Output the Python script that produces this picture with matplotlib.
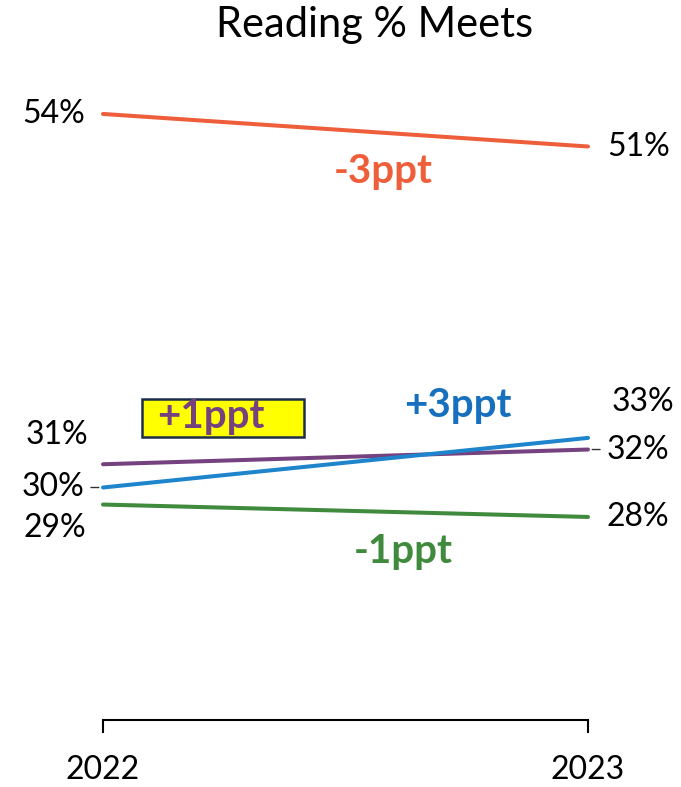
import matplotlib.pyplot as plt
from matplotlib.patches import Rectangle

plt.rcParams['font.family'] = ['Lato', 'DejaVu Sans']

years = [2022, 2023]
# values (hidden y scale)
orange_vals = [54.1, 52.0]
purple_vals = [31.5, 32.45]
blue_vals = [30.0, 33.2]
green_vals = [28.9, 28.1]

series_vals = [orange_vals, purple_vals, blue_vals, green_vals]
series_colors = ['#EE5E3A', '#76417F', '#1E84CC', '#3F8A3C']
text_colors = ['#EE5E3A', '#76417F', '#1670BE', '#3F8A3C']

left_labels = ['54%', '31%', '30%', '29%']
right_labels = ['51%', '32%', '33%', '28%']
change_labels = ['-3ppt', '+1ppt', '+3ppt', '-1ppt']

# label offsets in pixels from the line ends
left_off = [(-18, 0), (-15, 29), (-19, 0), (-17, -23)]
right_off = [(19, 0), (19, 0), (24, 36), (19, 0)]
leader_left = [False, False, True, False]
leader_right = [False, True, False, False]
# change label positions (data coords)
change_pos = [(2022.577, 50.4), (2022.222, 34.6), (2022.732, 35.3), (2022.619, 25.9)]

fig = plt.figure(figsize=(6.81, 7.87), dpi=100)
ax = fig.add_axes([103 / 681, 1 - 720 / 787, 485 / 681, 620 / 787])
ax.set_xlim(2022, 2023)
ax.set_ylim(15, 55)

for vals, col in zip(series_vals, series_colors):
    ax.plot(years, vals, color=col, lw=2.9, solid_capstyle='round', clip_on=False)

for i, vals in enumerate(series_vals):
    ap = dict(arrowstyle='-', color='#333333', lw=1, shrinkA=3, shrinkB=3) if leader_left[i] else None
    ax.annotate(left_labels[i], xy=(years[0], vals[0]), xytext=left_off[i],
                textcoords='offset pixels', ha='right', va='center', fontsize=23,
                arrowprops=ap, annotation_clip=False)
    ap = dict(arrowstyle='-', color='#333333', lw=1, shrinkA=3, shrinkB=3) if leader_right[i] else None
    ax.annotate(right_labels[i], xy=(years[1], vals[1]), xytext=right_off[i],
                textcoords='offset pixels', ha='left', va='center', fontsize=23,
                arrowprops=ap, annotation_clip=False)

# yellow box behind +1ppt
ax.add_patch(Rectangle((2022.080, 33.23), 0.335, 2.51, facecolor='#FFFF00',
                       edgecolor='#1C2E4A', lw=1.8, zorder=3, clip_on=False))

for txt, pos, col in zip(change_labels, change_pos, text_colors):
    ax.text(pos[0], pos[1], txt, color=col, fontsize=29, fontweight='bold',
            ha='center', va='center', zorder=4)

for s in ['top', 'left', 'right']:
    ax.spines[s].set_visible(False)
ax.spines['bottom'].set_linewidth(1.5)
ax.set_yticks([])
ax.set_xticks(years)
ax.set_xticklabels([str(y) for y in years], fontsize=23)
ax.tick_params(axis='x', direction='out', length=9, width=1.5, pad=16)

fig.text(375 / 681, 1 - 25 / 787, 'Reading % Meets', ha='center', va='center', fontsize=30)

fig.savefig('out.png', dpi=100)
